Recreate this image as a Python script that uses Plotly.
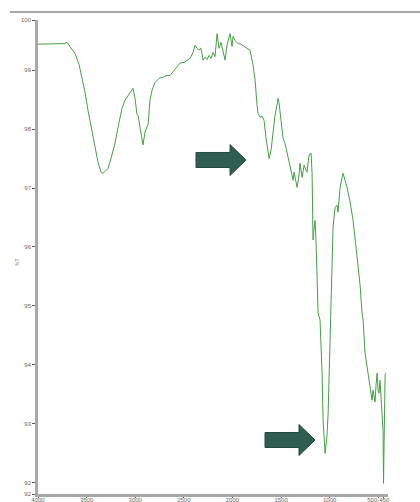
import plotly.graph_objects as go

# FT-IR spectrum: wavenumber (cm-1) vs transmittance (%T)
wavenumber = [
    4000, 3928, 3856, 3774, 3733, 3702, 3671, 3640, 3619, 3578,
    3547, 3516, 3486, 3444, 3414, 3383, 3352, 3331, 3300, 3280,
    3249, 3208, 3177, 3136, 3105, 3074, 3043, 3023, 3002, 2982,
    2971, 2951, 2930, 2920, 2899, 2879, 2868, 2848, 2827, 2796,
    2755, 2714, 2673, 2642, 2601, 2570, 2539, 2498, 2457, 2436,
    2405, 2385, 2364, 2344, 2323, 2302, 2282, 2261, 2241, 2220,
    2200, 2179, 2158, 2138, 2117, 2097, 2076, 2056, 2035, 2025,
    2004, 1994, 1973, 1942, 1912, 1881, 1850, 1819, 1798, 1788,
    1767, 1757, 1747, 1737, 1716, 1695, 1675, 1654, 1634, 1623,
    1603, 1582, 1562, 1541, 1531, 1521, 1500, 1479, 1459, 1438,
    1418, 1397, 1376, 1366, 1356, 1335, 1315, 1305, 1284, 1263,
    1243, 1233, 1212, 1191, 1181, 1176, 1171, 1161, 1150, 1140,
    1130, 1119, 1099, 1089, 1078, 1068, 1058, 1047, 1037, 1027,
    1016, 1006, 996, 986, 975, 965, 944, 924, 914, 893,
    872, 862, 842, 821, 790, 759, 739, 718, 698, 687,
    667, 656, 636, 626, 615, 605, 595, 584, 574, 564,
    554, 543, 533, 523, 512, 502, 492, 482, 471, 461,
    451, 446, 440, 430, 420,
]
transmittance = [
    99.44, 99.44, 99.45, 99.44, 99.45, 99.47, 99.40, 99.34, 99.28, 99.10,
    98.88, 98.62, 98.32, 97.98, 97.69, 97.44, 97.27, 97.25, 97.30, 97.33,
    97.50, 97.76, 98.03, 98.35, 98.49, 98.57, 98.66, 98.69, 98.52, 98.25,
    98.23, 98.03, 97.81, 97.73, 97.95, 98.05, 98.08, 98.49, 98.66, 98.79,
    98.86, 98.88, 98.91, 98.91, 99.00, 99.05, 99.12, 99.13, 99.18, 99.20,
    99.30, 99.42, 99.37, 99.34, 99.37, 99.17, 99.22, 99.18, 99.25, 99.20,
    99.30, 99.23, 99.62, 99.37, 99.47, 99.30, 99.17, 99.42, 99.54, 99.62,
    99.40, 99.57, 99.50, 99.45, 99.44, 99.40, 99.37, 99.34, 99.20, 99.08,
    98.83, 98.57, 98.40, 98.27, 98.20, 98.22, 98.15, 97.84, 97.56, 97.50,
    97.64, 97.98, 98.23, 98.42, 98.52, 98.45, 98.15, 97.84, 97.76, 97.59,
    97.47, 97.30, 97.13, 97.27, 97.17, 97.01, 97.22, 97.42, 97.18, 97.39,
    97.30, 97.27, 97.56, 97.59, 97.25, 96.45, 96.12, 96.29, 96.45, 96.06,
    95.44, 94.88, 94.76, 94.34, 93.86, 93.06, 92.73, 92.50, 92.64, 92.81,
    93.18, 93.74, 94.42, 95.01, 95.56, 96.34, 96.67, 96.71, 96.59, 97.01,
    97.18, 97.25, 97.13, 97.01, 96.76, 96.45, 96.15, 95.83, 95.61, 95.35,
    94.88, 94.76, 94.20, 94.08, 93.99, 93.91, 93.78, 93.61, 93.52, 93.40,
    93.57, 93.44, 93.37, 93.66, 93.86, 93.57, 93.52, 93.74, 93.49, 93.28,
    92.89, 91.99, 93.23, 93.83, 93.86,
]

x_tick_vals = [4000, 3500, 3000, 2500, 2000, 1500, 1000, 500, 450]
x_tick_text = ["4000", "3500", "3000", "2500", "2000", "1500", "1000", "500-450", ""]
y_tick_vals = [91.81, 92, 93, 94, 95, 96, 97, 98, 99, 99.85]
y_tick_text = ["92", "92", "93", "94", "95", "96", "97", "98", "99", "100"]

X_RANGE = [4000, 400]
Y_RANGE = [91.81, 99.85]

# figure geometry (pixels)
W, H = 420, 502
ML, MR, MT, MB = 38, 32, 20, 8
PW, PH = W - ML - MR, H - MT - MB


def px_to_paper(px, py):
    return (px - ML) / PW, (H - MB - py) / PH


def block_arrow(tip_px, tip_py, length=50, body_h=15, head_h=31, head_len=16):
    """Right-pointing block arrow as an SVG path in paper coordinates."""
    x0 = tip_px - length
    xh = tip_px - head_len
    pts = [
        (x0, tip_py - body_h / 2),
        (xh, tip_py - body_h / 2),
        (xh, tip_py - head_h / 2),
        (tip_px, tip_py),
        (xh, tip_py + head_h / 2),
        (xh, tip_py + body_h / 2),
        (x0, tip_py + body_h / 2),
    ]
    coords = [px_to_paper(a, b) for a, b in pts]
    return "M " + " L ".join(f"{a:.4f},{b:.4f}" for a, b in coords) + " Z"


fig = go.Figure()
fig.add_trace(go.Scatter(
    x=wavenumber, y=transmittance, mode="lines",
    line=dict(color="#45a045", width=1),
    hoverinfo="skip", showlegend=False,
))

axis_font = dict(family="Liberation Sans, Arial, sans-serif", size=6, color="#666666")

fig.update_xaxes(
    range=X_RANGE, tickvals=x_tick_vals, ticktext=x_tick_text, tickangle=0,
    showline=True, linecolor="#a8a8a8", linewidth=2.5, mirror=False,
    ticks="outside", ticklen=1, tickcolor="#555555", tickwidth=1,
    ticklabelstandoff=-3,
    showgrid=False, zeroline=False, tickfont=axis_font,
)
fig.update_yaxes(
    range=Y_RANGE, tickvals=y_tick_vals, ticktext=y_tick_text,
    showline=True, linecolor="#a8a8a8", linewidth=2.5, mirror=False,
    ticks="outside", ticklen=3, tickcolor="#555555", tickwidth=1,
    showgrid=False, zeroline=False, tickfont=axis_font,
)

shapes = []
# thin frame rule across the top
tx0, ty = px_to_paper(10, 12)
tx1, _ = px_to_paper(420, 12)
shapes.append(dict(type="line", xref="paper", yref="paper",
                   x0=tx0, x1=tx1, y0=ty, y1=ty,
                   line=dict(color="#a8a8a8", width=2)))
# block arrows marking the bands of interest
for tip in [(246, 160), (315, 440)]:
    shapes.append(dict(type="path", xref="paper", yref="paper",
                       path=block_arrow(*tip),
                       fillcolor="#2f5e50", line=dict(color="#24483d", width=1)))

ax, ay = px_to_paper(12, 262)
fig.update_layout(
    width=W, height=H,
    margin=dict(l=ML, r=MR, t=MT, b=MB, autoexpand=False),
    paper_bgcolor="white", plot_bgcolor="white",
    shapes=shapes,
    annotations=[dict(text="%T", xref="paper", yref="paper", x=ax, y=ay,
                      showarrow=False, textangle=-90,
                      font=dict(family="Liberation Sans, Arial, sans-serif",
                                size=5, color="#777777"))],
)

fig.write_html("out.html")
